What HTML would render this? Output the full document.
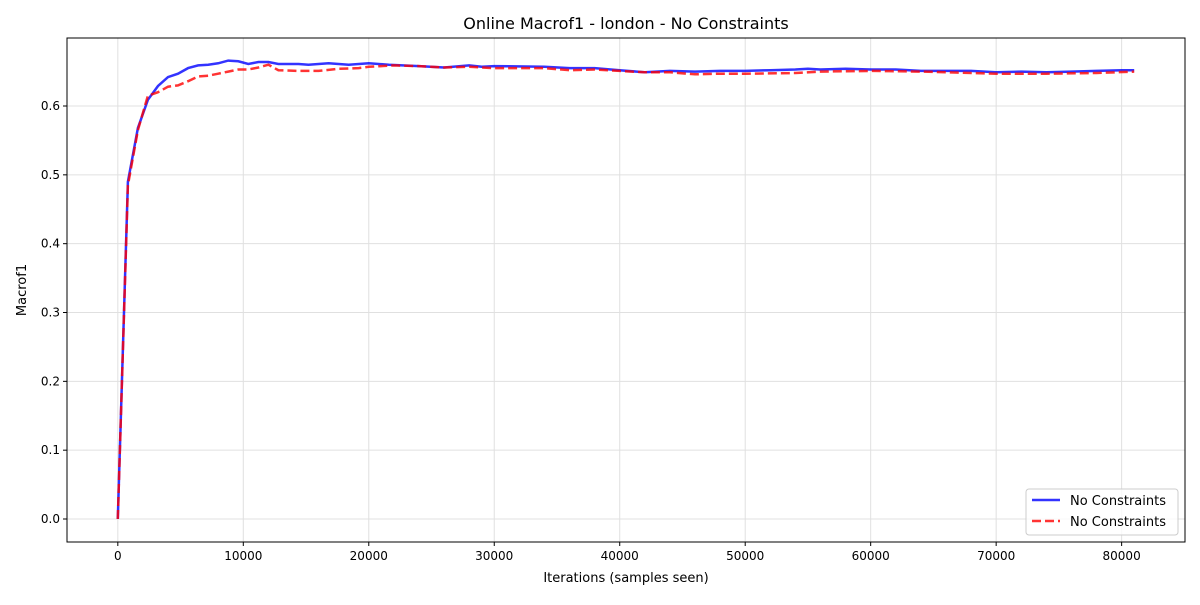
<!DOCTYPE html>
<html><head><meta charset="utf-8"><style>
body{margin:0;background:#fff;font-family:"Liberation Sans","DejaVu Sans",sans-serif}
svg text{font-family:"DejaVu Sans","Liberation Sans",sans-serif}
</style></head><body>
<svg id="c" width="1200" height="600"></svg>
<script>
const blueX=[0,800,1600,2400,3200,4000,4800,5600,6400,7200,8000,8800,9600,10400,11200,12000,12800,14400,15200,16800,18400,20000,21600,24000,26000,28000,29000,30000,34000,36000,38000,40000,42000,44000,46000,48000,50000,52000,54000,55000,56000,58000,60000,62000,64000,66000,68000,70000,72000,74000,76000,78000,80000,81000];
const blueY=[0,0.49,0.568,0.609,0.629,0.642,0.647,0.655,0.659,0.660,0.662,0.666,0.665,0.661,0.664,0.664,0.661,0.661,0.660,0.662,0.660,0.662,0.660,0.658,0.656,0.659,0.657,0.658,0.657,0.655,0.655,0.652,0.649,0.651,0.650,0.651,0.651,0.652,0.653,0.654,0.653,0.654,0.653,0.653,0.651,0.651,0.651,0.649,0.650,0.649,0.650,0.651,0.652,0.652];
const redX=[0,800,1600,2400,3200,4000,4800,5600,6400,7200,8000,8800,9600,10400,11200,12000,12800,14400,16000,17600,19200,20000,22000,24000,26000,28000,30000,34000,36000,38000,40000,42000,44000,46000,48000,50000,54000,56000,60000,64000,66000,70000,74000,78000,81000];
const redY=[0,0.485,0.565,0.615,0.620,0.628,0.630,0.636,0.643,0.644,0.647,0.650,0.653,0.653,0.656,0.660,0.652,0.651,0.651,0.654,0.655,0.657,0.659,0.658,0.656,0.657,0.655,0.655,0.652,0.653,0.651,0.649,0.649,0.646,0.647,0.647,0.648,0.650,0.651,0.650,0.649,0.647,0.647,0.648,0.650];
const xTicks=[0,10000,20000,30000,40000,50000,60000,70000,80000];
const yTicks=[0.0,0.1,0.2,0.3,0.4,0.5,0.6];
const L=67,R=1185,T=38,B=542,xmin=-4050,xmax=85050,ymin=-0.0334,ymax=0.6988;
const sx=v=>L+(v-xmin)/(xmax-xmin)*(R-L), sy=v=>B-(v-ymin)/(ymax-ymin)*(B-T);
const svg=document.getElementById('c'),NS='http://www.w3.org/2000/svg';
function mk(t,a,p){const e=document.createElementNS(NS,t);for(const k in a)e.setAttribute(k,a[k]);(p||svg).appendChild(e);return e;}
let e;
xTicks.forEach(v=>{
 e=mk('line',{x1:sx(v),x2:sx(v),y1:T,y2:B,stroke:'#e0e0e0','stroke-width':1});
 
 
 mk('line',{x1:sx(v),x2:sx(v),y1:B,y2:B+4,stroke:'#000'});
 e=mk('text',{x:sx(v),y:B+18,'text-anchor':'middle','font-size':12});e.textContent=v;
 
 
});
yTicks.forEach(v=>{
 e=mk('line',{x1:L,x2:R,y1:sy(v),y2:sy(v),stroke:'#e0e0e0','stroke-width':1});
 
 
 mk('line',{x1:L-4,x2:L,y1:sy(v),y2:sy(v),stroke:'#000'});
 e=mk('text',{x:L-7,y:sy(v)+4,'text-anchor':'end','font-size':12});e.textContent=v.toFixed(1);
 
 
});
function path(xs,ys){return xs.map((x,i)=>(i?'L':'M')+sx(x).toFixed(1)+' '+sy(ys[i]).toFixed(1)).join('');}
e=mk('path',{d:path(blueX,blueY),fill:'none',stroke:'#0000ff','stroke-opacity':0.8,'stroke-width':2.5});


e=mk('path',{d:path(redX,redY),fill:'none',stroke:'#ff0000','stroke-opacity':0.8,'stroke-width':2.5,'stroke-dasharray':'9 4'});


e=mk('rect',{x:L,y:T,width:R-L,height:B-T,fill:'none',stroke:'#000','stroke-width':1});


e=mk('text',{x:(L+R)/2,y:29,'text-anchor':'middle','font-size':16});e.textContent='Online Macrof1 - london - No Constraints';


e=mk('text',{x:(L+R)/2,y:582,'text-anchor':'middle','font-size':13});e.textContent='Iterations (samples seen)';


e=mk('text',{x:26,y:(T+B)/2,'text-anchor':'middle','font-size':13,transform:'rotate(-90 26 '+(T+B)/2+')'});e.textContent='Macrof1';


const lg=mk('g',{});


mk('rect',{x:1026,y:489,width:152,height:46,rx:3,fill:'#fff','fill-opacity':0.8,stroke:'#ccc'},lg);
mk('line',{x1:1032,x2:1060,y1:500,y2:500,stroke:'#0000ff','stroke-opacity':0.8,'stroke-width':2.5},lg);
e=mk('text',{x:1070,y:505,'font-size':13},lg);e.textContent='No Constraints';


mk('line',{x1:1032,x2:1060,y1:521,y2:521,stroke:'#ff0000','stroke-opacity':0.8,'stroke-width':2.5,'stroke-dasharray':'9 4'},lg);
e=mk('text',{x:1070,y:526,'font-size':13},lg);e.textContent='No Constraints';


</script>
</body></html>
